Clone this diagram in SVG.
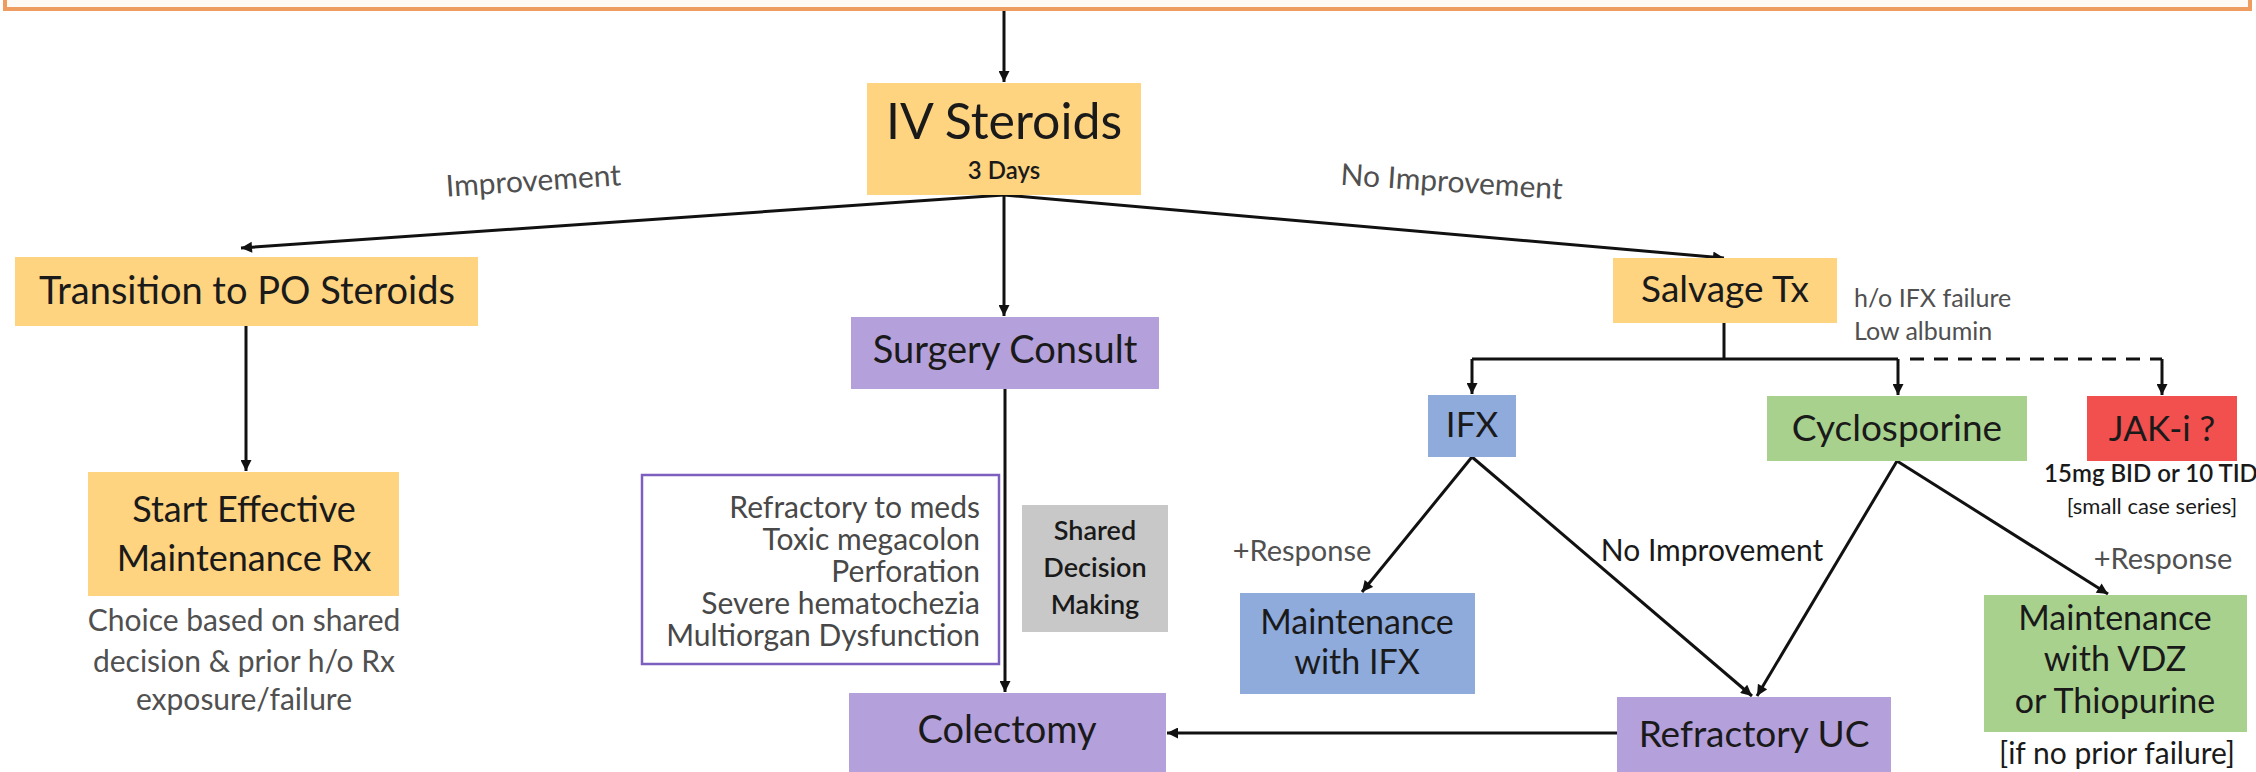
<svg xmlns="http://www.w3.org/2000/svg" width="2256" height="772" viewBox="0 0 2256 772">
<style>
text{font-family:Lato,"Open Sans","Liberation Sans",sans-serif;fill:#1a1a1a}
.c{text-anchor:middle}
.r{text-anchor:end}
.g{fill:#505050}
.crit{fill:#484848;font-size:30px}
.yel{fill:#fed480}
.pur{fill:#b4a0da}
.blu{fill:#8fabdc}
.grn{fill:#a9d18e}
.red{fill:#f24f4f}
.gry{fill:#c8c8c8}
.ln{stroke:#111;stroke-width:3;fill:none}
.ar{marker-end:url(#ah)}
.dash{stroke-dasharray:14 10}
</style>
<defs>
<marker id="ah" viewBox="0 0 10 10" refX="10" refY="5" markerUnits="userSpaceOnUse" markerWidth="12" markerHeight="11" orient="auto">
<path d="M0,0 L10,5 L0,10 z" fill="#111"/>
</marker>
</defs>
<rect width="2256" height="772" fill="#ffffff"/>
<rect id="topbar" x="5" y="-20" width="2245" height="29" fill="#fffaf4" stroke="#ee9c5f" stroke-width="4"/>

<g id="connectors">
<line class="ln ar" x1="1004" y1="11" x2="1004" y2="82"/>
<line class="ln ar" x1="1004" y1="195" x2="241" y2="248"/>
<line class="ln ar" x1="1004" y1="195" x2="1004" y2="316"/>
<line class="ln ar" x1="1004" y1="195" x2="1724" y2="258"/>
<line class="ln ar" x1="246" y1="326" x2="246" y2="471"/>
<line class="ln ar" x1="1005" y1="389" x2="1005" y2="692"/>
<line class="ln" x1="1724" y1="323" x2="1724" y2="359"/>
<line class="ln" x1="1472" y1="359" x2="1898" y2="359"/>
<line class="ln ar" x1="1472" y1="359" x2="1472" y2="394"/>
<line class="ln ar" x1="1898" y1="359" x2="1898" y2="395"/>
<polyline class="ln dash" points="1910,359 2162,359"/>
<line class="ln ar" x1="2162" y1="359" x2="2162" y2="395"/>
<line class="ln ar" x1="1472" y1="457" x2="1362" y2="592"/>
<line class="ln ar" x1="1472" y1="457" x2="1752" y2="696"/>
<line class="ln ar" x1="1897" y1="461" x2="1757" y2="696"/>
<line class="ln ar" x1="1897" y1="461" x2="2108" y2="594"/>
<line class="ln ar" x1="1617" y1="733" x2="1167" y2="733"/>
<text class="c g" x="534" y="191" font-size="30" transform="rotate(-3.8 534 191)">Improvement</text>
<text class="c g" x="1451" y="192" font-size="30" transform="rotate(3.7 1451 192)">No Improvement</text>
<text class="c g" x="1302" y="561" font-size="29">+Response</text>
<text class="c" x="1712" y="561" font-size="30" fill="#383838">No Improvement</text>
<text class="c g" x="2163" y="569" font-size="29">+Response</text>
</g>

<g id="iv-steroids">
<rect class="yel" x="867" y="83" width="274" height="112"/>
<text class="c" x="1004" y="139" font-size="50">IV Steroids</text>
<text class="c" x="1004" y="179" font-size="24" font-weight="600">3 Days</text>
</g>

<g id="transition">
<rect class="yel" x="15" y="257" width="463" height="69"/>
<text class="c" x="247" y="304" font-size="38">Transition to PO Steroids</text>
</g>

<g id="start-maint">
<rect class="yel" x="88" y="472" width="311" height="124"/>
<text class="c" x="244" y="522" font-size="36">Start Effective</text>
<text class="c" x="244" y="571" font-size="36">Maintenance Rx</text>
<text class="c g" x="244" y="631" font-size="30">Choice based on shared</text>
<text class="c g" x="244" y="672" font-size="30">decision &amp; prior h/o Rx</text>
<text class="c g" x="244" y="710" font-size="30">exposure/failure</text>
</g>

<g id="surgery">
<rect class="pur" x="851" y="317" width="308" height="72"/>
<text class="c" x="1005" y="363" font-size="38">Surgery Consult</text>
</g>

<g id="criteria">
<rect x="642" y="475" width="357" height="189" fill="#ffffff" stroke="#7d5fbf" stroke-width="2.5"/>
<text class="r crit" x="980" y="518">Refractory to meds</text>
<text class="r crit" x="980" y="550">Toxic megacolon</text>
<text class="r crit" x="980" y="582">Perforation</text>
<text class="r crit" x="980" y="614">Severe hematochezia</text>
<text class="r crit" x="980" y="646">Multiorgan Dysfunction</text>
</g>

<g id="shared">
<rect class="gry" x="1022" y="505" width="146" height="127"/>
<text class="c" x="1095" y="540" font-size="27" font-weight="600" fill="#333">Shared</text>
<text class="c" x="1095" y="577" font-size="27" font-weight="600" fill="#333">Decision</text>
<text class="c" x="1095" y="614" font-size="27" font-weight="600" fill="#333">Making</text>
</g>

<g id="colectomy">
<rect class="pur" x="849" y="693" width="317" height="79"/>
<text class="c" x="1007" y="743" font-size="38">Colectomy</text>
</g>

<g id="salvage">
<rect class="yel" x="1613" y="258" width="224" height="65"/>
<text class="c" x="1725" y="302" font-size="37">Salvage Tx</text>
<text class="g" x="1854" y="307" font-size="25">h/o IFX failure</text>
<text class="g" x="1854" y="340" font-size="25">Low albumin</text>
</g>

<g id="ifx">
<rect class="blu" x="1428" y="395" width="88" height="62"/>
<text class="c" x="1472" y="437" font-size="35">IFX</text>
</g>

<g id="cyclosporine">
<rect class="grn" x="1767" y="396" width="260" height="65"/>
<text class="c" x="1897" y="441" font-size="37">Cyclosporine</text>
</g>

<g id="jak">
<rect class="red" x="2087" y="396" width="150" height="65"/>
<text class="c" x="2162" y="441" font-size="35">JAK-i ?</text>
<text class="c" x="2151" y="482" font-size="24" font-weight="600" fill="#222">15mg BID or 10 TID</text>
<text class="c" x="2152" y="514" font-size="22" fill="#333">[small case series]</text>
</g>

<g id="maint-ifx">
<rect class="blu" x="1240" y="593" width="235" height="101"/>
<text class="c" x="1357" y="634" font-size="34">Maintenance</text>
<text class="c" x="1357" y="674" font-size="34">with IFX</text>
</g>

<g id="refractory-uc">
<rect class="pur" x="1617" y="697" width="274" height="75"/>
<text class="c" x="1754" y="747" font-size="37">Refractory UC</text>
</g>

<g id="maint-vdz">
<rect class="grn" x="1984" y="595" width="263" height="137"/>
<text class="c" x="2115" y="630" font-size="34">Maintenance</text>
<text class="c" x="2115" y="671" font-size="34">with VDZ</text>
<text class="c" x="2115" y="713" font-size="34">or Thiopurine</text>
<text class="c" x="2117" y="764" font-size="30" fill="#333">[if no prior failure]</text>
</g>
</svg>
